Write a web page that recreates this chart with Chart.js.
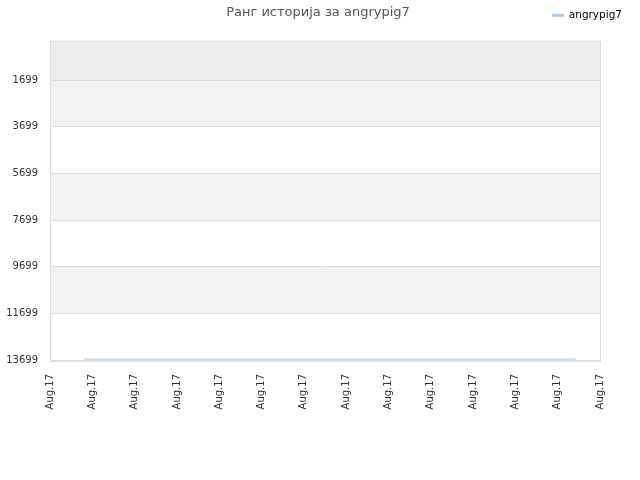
<!DOCTYPE html>
<html>
<head>
<meta charset="utf-8">
<script src="https://cdn.jsdelivr.net/npm/chart.js@4/dist/chart.umd.min.js"></script>
<style>
  html, body { margin: 0; padding: 0; background: #fff; }
  #wrap { position: relative; width: 640px; height: 480px; }
  #title { position: absolute; left: 0; top: 4px; width: 636px; text-align: center;
           font-family: "DejaVu Sans", sans-serif; font-size: 13px; color: #555; }
</style>
</head>
<body>
<div id="wrap">
  <canvas id="c" width="640" height="480"></canvas>
  <div id="title">Ранг историја за angrypig7</div>
</div>
<script>
const seriesName = "angrypig7";
const xLabel = "Aug.17";
const xTickCount = 14;
const pointX = [0.8, 12.43];
const rankValues = [13660, 13660];
const yTicks = [1699, 3699, 5699, 7699, 9699, 11699, 13699];
const yMin = 0;
const yMax = 13699;

const bandPlugin = {
  id: 'bands',
  beforeLayout(chart) {
    const lg = chart.legend;
    if (lg && !lg._patched) {
      const fit = lg.fit;
      lg.fit = function () { fit.call(this); this.height += 10; };
      lg._patched = true;
    }
  },
  beforeDraw(chart) {
    const { ctx, chartArea: a, scales: { y } } = chart;
    const edges = [yMin].concat(yTicks);
    ctx.save();
    for (let i = 0; i < edges.length - 1; i++) {
      const y1 = y.getPixelForValue(edges[i]);
      const y2 = y.getPixelForValue(edges[i + 1]);
      ctx.fillStyle = i === 0 ? '#ececec' : (i % 2 === 1 ? '#f2f2f2' : '#ffffff');
      ctx.fillRect(a.left, Math.min(y1, y2), a.right - a.left, Math.abs(y2 - y1));
    }
    ctx.restore();
  },
  afterDraw(chart) {
    const { ctx, chartArea: a } = chart;
    ctx.save();
    ctx.strokeStyle = '#dddddd';
    ctx.lineWidth = 1;
    ctx.strokeRect(Math.round(a.left) + 0.5, Math.round(a.top) + 0.5,
                   Math.round(a.right - a.left), Math.round(a.bottom - a.top));
    ctx.restore();
  }
};

new Chart(document.getElementById('c'), {
  type: 'line',
  data: {
    datasets: [{
      label: seriesName,
      data: pointX.map((x, i) => ({ x: x, y: rankValues[i] })),
      borderColor: '#a8caee',
      backgroundColor: '#a8caee',
      borderWidth: 1,
      pointRadius: 0,
      fill: false,
      tension: 0
    }]
  },
  options: {
    responsive: false,
    animation: false,
    layout: { padding: { top: 0, right: 8, left: 0, bottom: 0 } },
    plugins: {
      title: { display: false },
      tooltip: { enabled: false },
      legend: {
        display: true,
        position: 'top',
        align: 'end',
        labels: {
          boxWidth: 11,
          boxHeight: 2,
          padding: 10,
          color: '#000',
          font: { family: 'DejaVu Sans', size: 10.5 }
        }
      }
    },
    scales: {
      x: {
        type: 'linear',
        min: 0,
        max: xTickCount - 1,
        afterBuildTicks(axis) {
          axis.ticks = Array.from({ length: xTickCount }, (_, i) => ({ value: i }));
        },
        afterFit(scale) { scale.height = 120; },
        grid: { display: false, drawTicks: false },
        border: { display: false },
        ticks: {
          autoSkip: false,
          minRotation: 90,
          maxRotation: 90,
          padding: 14,
          color: '#333',
          font: { family: 'DejaVu Sans', size: 10 },
          callback: () => xLabel
        }
      },
      y: {
        reverse: true,
        min: yMin,
        max: yMax,
        afterBuildTicks(axis) {
          axis.ticks = yTicks.map(v => ({ value: v }));
        },
        afterFit(scale) { scale.width = 50; },
        grid: { color: '#dddddd', drawTicks: false },
        border: { color: '#dddddd' },
        ticks: {
          padding: 12,
          color: '#333',
          font: { family: 'DejaVu Sans', size: 10 },
          callback: v => String(v)
        }
      },
      yRight: {
        position: 'right',
        display: true,
        afterFit(scale) { scale.width = 32; },
        grid: { display: false, drawTicks: false },
        border: { display: false },
        ticks: { display: false }
      }
    }
  },
  plugins: [bandPlugin]
});
</script>
</body>
</html>
